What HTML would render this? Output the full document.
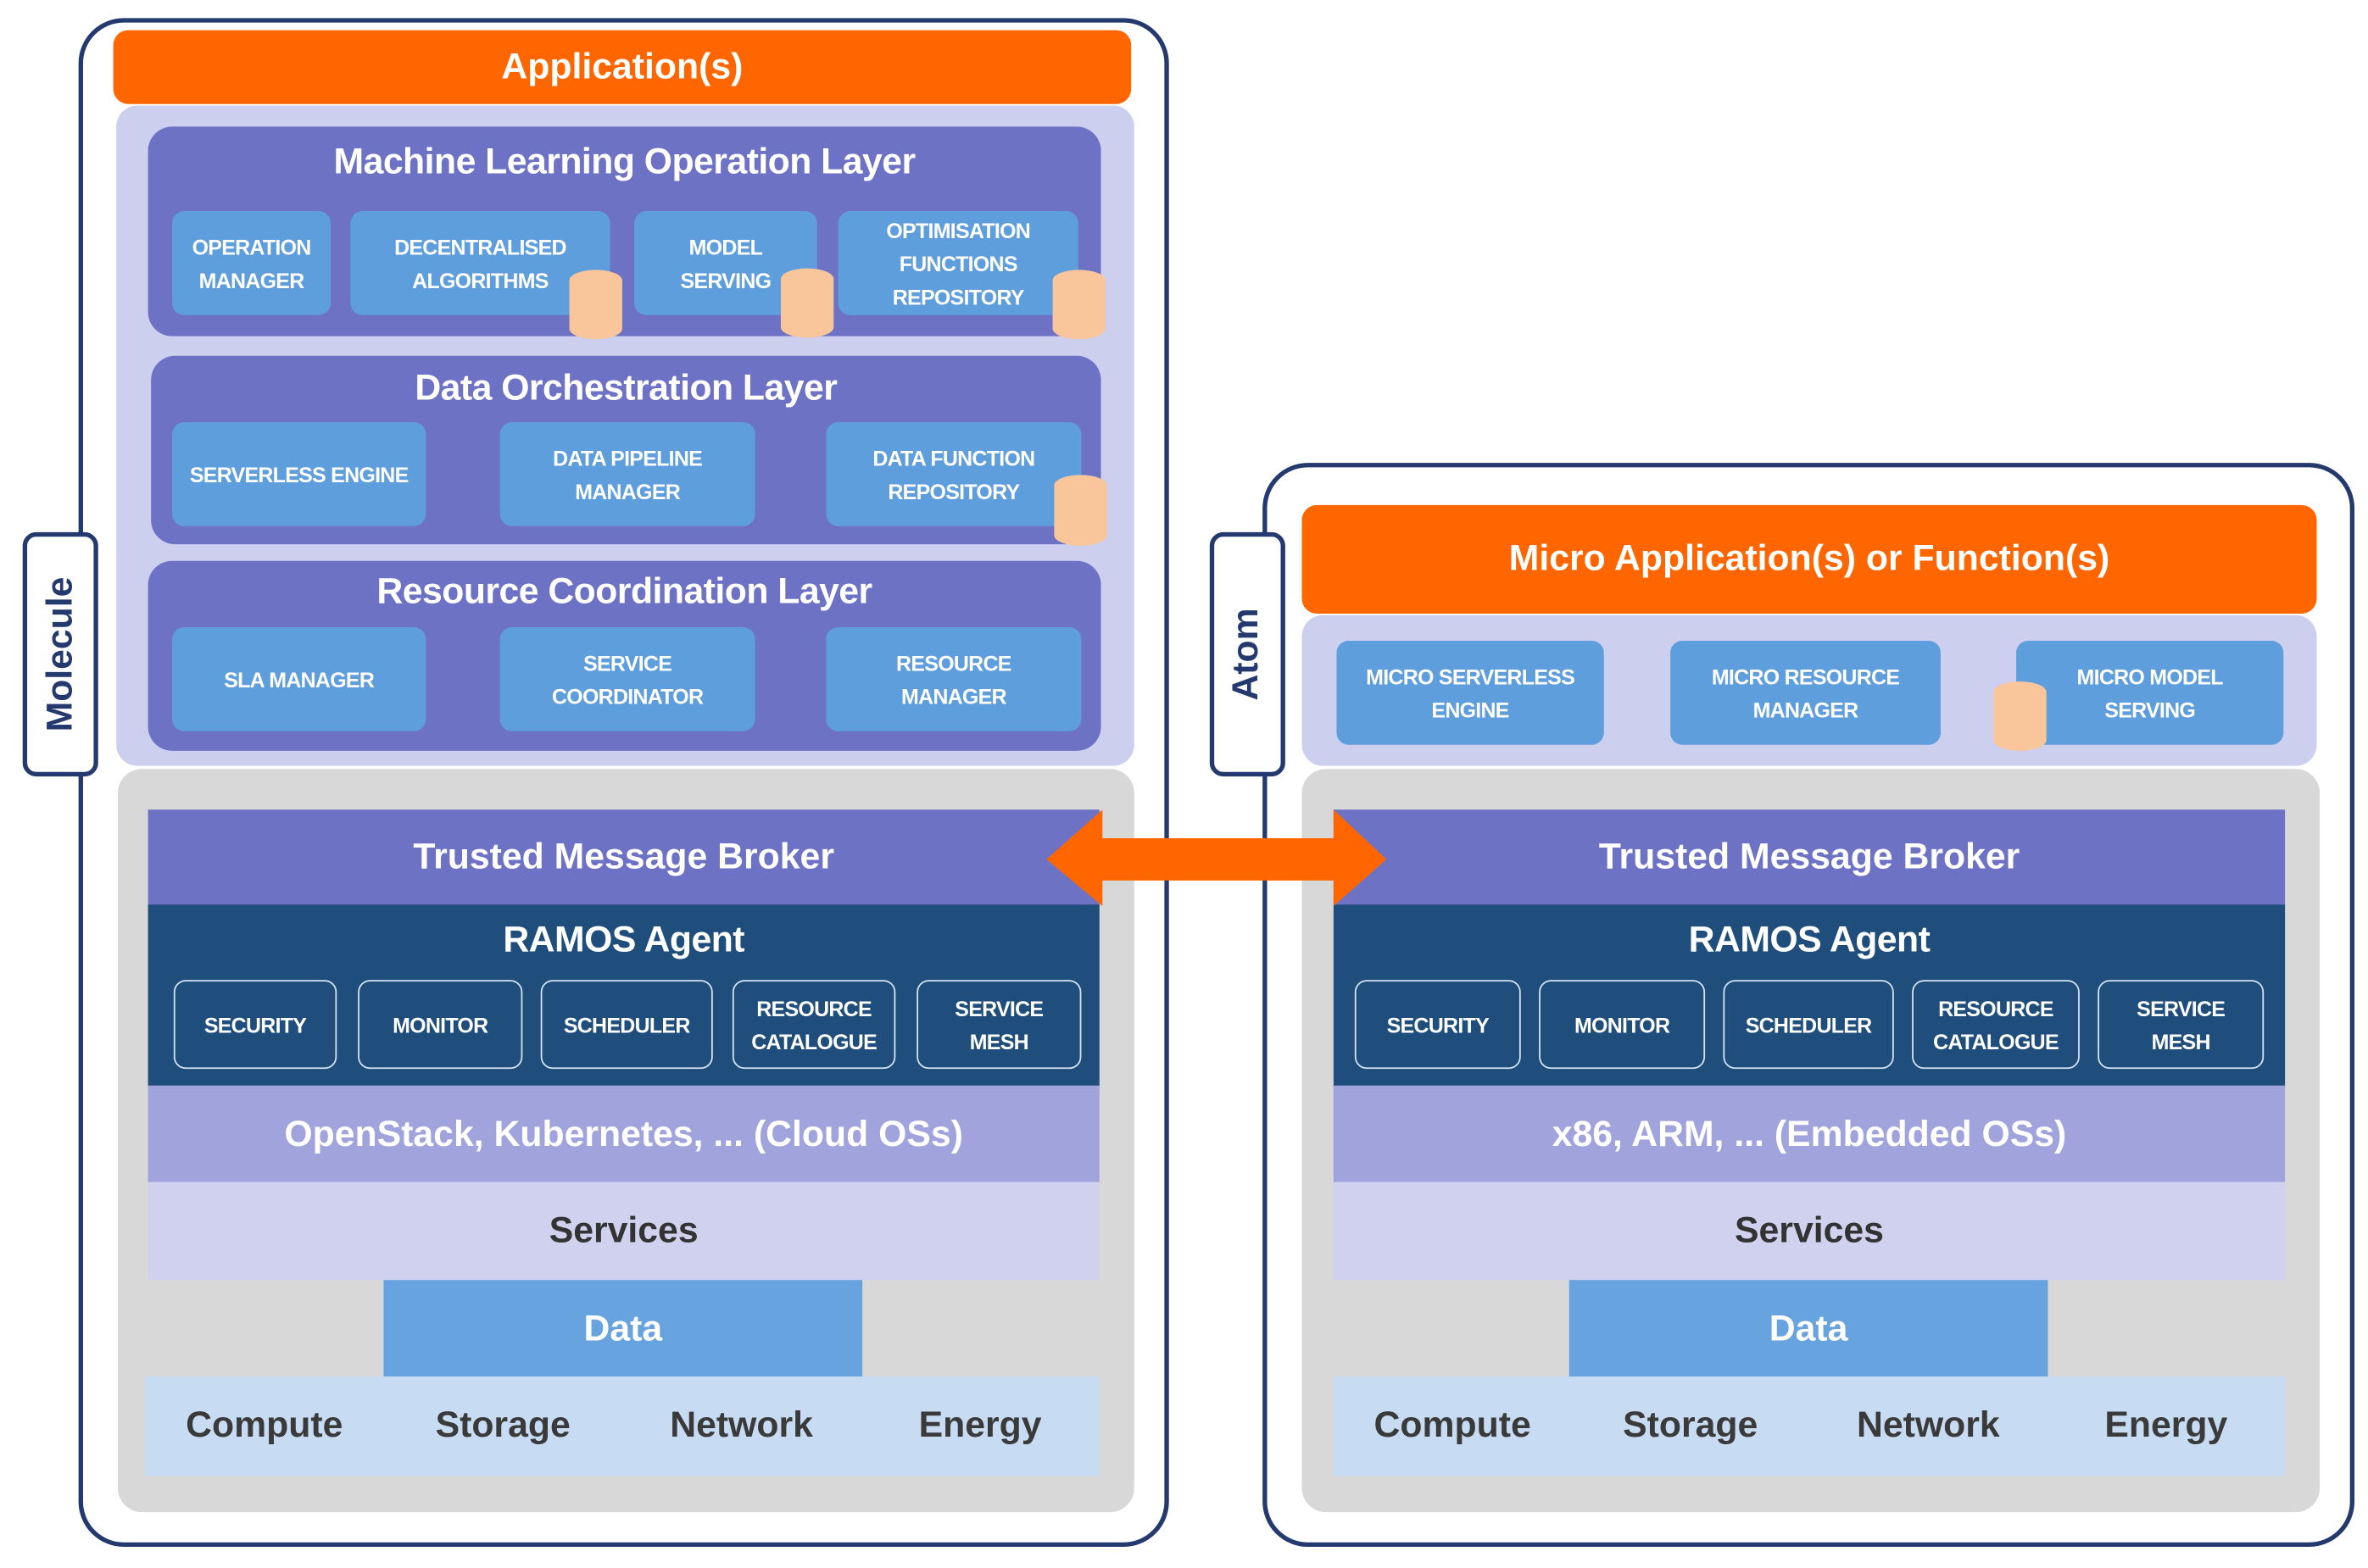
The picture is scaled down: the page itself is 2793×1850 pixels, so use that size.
<!DOCTYPE html>
<html><head><meta charset="utf-8"><style>
html,body{margin:0;padding:0;background:#fff;}
body{width:2793px;height:1850px;overflow:hidden;position:relative;}
#c{position:absolute;left:0;top:0;width:1568px;height:1040px;transform:scale(1.7813,1.7788);transform-origin:0 0;font-family:"Liberation Sans Narrow","Liberation Sans",sans-serif;font-weight:bold;}
.a{position:absolute;box-sizing:border-box;}
.f{display:flex;align-items:center;justify-content:center;text-align:center;}
.outer{border:3px solid #243a6e;border-radius:30px;background:#fff;}
.tab{border:3px solid #243a6e;border-radius:9px;background:#fff;}
.tab span{transform:rotate(-90deg);font-family:"Liberation Sans",sans-serif;font-size:24px;color:#243a6e;white-space:nowrap;}
.org{background:#ff6600;border-radius:10px;color:#fff;font-size:24px;}
.lav{background:#cdcfee;border-radius:14px;}
.layer{background:#6d72c5;border-radius:16px;}
.lt{color:#fff;font-size:24px;text-align:center;width:100%;letter-spacing:-0.3px;}
.bx{background:#5f9edc;border-radius:8px;color:#fff;font-size:14px;line-height:22px;letter-spacing:-0.4px;}
.cyl{width:35px;background:#f9c59b;border-radius:50%/7px;}
.gray{background:#d8d8d8;border-radius:16px;}
.tmb{background:#6d72c5;color:#fff;font-size:24px;}
.ram{background:#1f4e7d;}
.btn{border:1.5px solid #d6e4f4;border-radius:8px;color:#fff;font-size:14px;line-height:22px;letter-spacing:-0.4px;}
.os{background:#a0a3dc;color:#fff;font-size:24px;}
.sv{background:#cfd1ee;color:#333;font-size:24px;}
.dt{background:#67a3de;color:#fff;font-size:24px;}
.cp{background:#c7dbf2;color:#3a3a3a;font-size:24px;display:grid;grid-template-columns:1fr 1fr 1fr 1fr;align-items:center;justify-items:center;}
</style></head><body><div id="c">

<!-- LEFT -->
<div class="a outer" style="left:52px;top:12px;width:722px;height:1014px;"></div>
<div class="a tab f" style="left:15px;top:353px;width:50px;height:162px;"><span>Molecule</span></div>
<div class="a org f" style="left:75px;top:20px;width:674px;height:49px;">Application(s)</div>
<div class="a lav" style="left:77px;top:70px;width:674px;height:438px;"></div>

<div class="a layer" style="left:98px;top:84px;width:631px;height:139px;"><div class="lt" style="margin-top:10px;">Machine Learning Operation Layer</div></div>
<div class="a bx f" style="left:114px;top:140px;width:105px;height:69px;">OPERATION<br>MANAGER</div>
<div class="a bx f" style="left:232px;top:140px;width:172px;height:69px;">DECENTRALISED<br>ALGORITHMS</div>
<div class="a bx f" style="left:420px;top:140px;width:121px;height:69px;">MODEL<br>SERVING</div>
<div class="a bx f" style="left:555px;top:140px;width:159px;height:69px;">OPTIMISATION<br>FUNCTIONS<br>REPOSITORY</div>
<div class="a cyl" style="left:377px;top:179px;height:46px;"></div>
<div class="a cyl" style="left:517px;top:178px;height:46px;"></div>
<div class="a cyl" style="left:697px;top:179px;height:46px;"></div>

<div class="a layer" style="left:100px;top:236px;width:629px;height:125px;"><div class="lt" style="margin-top:8px;">Data Orchestration Layer</div></div>
<div class="a bx f" style="left:114px;top:280px;width:168px;height:69px;">SERVERLESS ENGINE</div>
<div class="a bx f" style="left:331px;top:280px;width:169px;height:69px;">DATA PIPELINE<br>MANAGER</div>
<div class="a bx f" style="left:547px;top:280px;width:169px;height:69px;">DATA FUNCTION<br>REPOSITORY</div>
<div class="a cyl" style="left:698px;top:315px;height:47px;"></div>

<div class="a layer" style="left:98px;top:372px;width:631px;height:126px;"><div class="lt" style="margin-top:7px;">Resource Coordination Layer</div></div>
<div class="a bx f" style="left:114px;top:416px;width:168px;height:69px;">SLA MANAGER</div>
<div class="a bx f" style="left:331px;top:416px;width:169px;height:69px;">SERVICE<br>COORDINATOR</div>
<div class="a bx f" style="left:547px;top:416px;width:169px;height:69px;">RESOURCE<br>MANAGER</div>

<div class="a gray" style="left:78px;top:510px;width:673px;height:493px;"></div>
<div class="a tmb f" style="left:98px;top:537px;width:630px;height:64px;">Trusted Message Broker</div>
<div class="a ram" style="left:98px;top:600px;width:630px;height:121px;"><div class="lt" style="margin-top:10px;">RAMOS Agent</div></div>
<div class="a btn f" style="left:115px;top:650px;width:108px;height:59px;">SECURITY</div>
<div class="a btn f" style="left:237px;top:650px;width:109px;height:59px;">MONITOR</div>
<div class="a btn f" style="left:358px;top:650px;width:114px;height:59px;">SCHEDULER</div>
<div class="a btn f" style="left:485px;top:650px;width:108px;height:59px;">RESOURCE<br>CATALOGUE</div>
<div class="a btn f" style="left:607px;top:650px;width:109px;height:59px;">SERVICE<br>MESH</div>
<div class="a os f" style="left:98px;top:720px;width:630px;height:65px;">OpenStack, Kubernetes, ... (Cloud OSs)</div>
<div class="a sv f" style="left:98px;top:784px;width:630px;height:65px;">Services</div>
<div class="a dt f" style="left:254px;top:849px;width:317px;height:65px;">Data</div>
<div class="a cp" style="left:96px;top:913px;width:632px;height:66px;"><span>Compute</span><span>Storage</span><span>Network</span><span>Energy</span></div>

<!-- RIGHT -->
<div class="a outer" style="left:836px;top:307px;width:723px;height:719px;"></div>
<div class="a tab f" style="left:801px;top:353px;width:50px;height:162px;"><span>Atom</span></div>
<div class="a org f" style="left:862px;top:335px;width:672px;height:72px;">Micro Application(s) or Function(s)</div>
<div class="a lav" style="left:862px;top:408px;width:672px;height:100px;"></div>
<div class="a bx f" style="left:885px;top:425px;width:177px;height:69px;">MICRO SERVERLESS<br>ENGINE</div>
<div class="a bx f" style="left:1106px;top:425px;width:179px;height:69px;">MICRO RESOURCE<br>MANAGER</div>
<div class="a bx f" style="left:1335px;top:425px;width:177px;height:69px;">MICRO MODEL<br>SERVING</div>
<div class="a cyl" style="left:1320px;top:452px;height:46px;"></div>

<div class="a gray" style="left:862px;top:510px;width:674px;height:493px;"></div>
<div class="a tmb f" style="left:883px;top:537px;width:630px;height:64px;">Trusted Message Broker</div>
<div class="a ram" style="left:883px;top:600px;width:630px;height:121px;"><div class="lt" style="margin-top:10px;">RAMOS Agent</div></div>
<div class="a btn f" style="left:897px;top:650px;width:110px;height:59px;">SECURITY</div>
<div class="a btn f" style="left:1019px;top:650px;width:110px;height:59px;">MONITOR</div>
<div class="a btn f" style="left:1141px;top:650px;width:113px;height:59px;">SCHEDULER</div>
<div class="a btn f" style="left:1266px;top:650px;width:111px;height:59px;">RESOURCE<br>CATALOGUE</div>
<div class="a btn f" style="left:1389px;top:650px;width:110px;height:59px;">SERVICE<br>MESH</div>
<div class="a os f" style="left:883px;top:720px;width:630px;height:65px;">x86, ARM, ... (Embedded OSs)</div>
<div class="a sv f" style="left:883px;top:784px;width:630px;height:65px;">Services</div>
<div class="a dt f" style="left:1039px;top:849px;width:317px;height:65px;">Data</div>
<div class="a cp" style="left:883px;top:913px;width:630px;height:66px;"><span>Compute</span><span>Storage</span><span>Network</span><span>Energy</span></div>

<!-- Arrow -->
<svg class="a" style="left:0;top:0;" width="1568" height="1040"><polygon fill="#ff6600" points="693,570 730,537 730,556 883,556 883,537 918,570 883,601 883,584 730,584 730,601"/></svg>
</div></body></html>
